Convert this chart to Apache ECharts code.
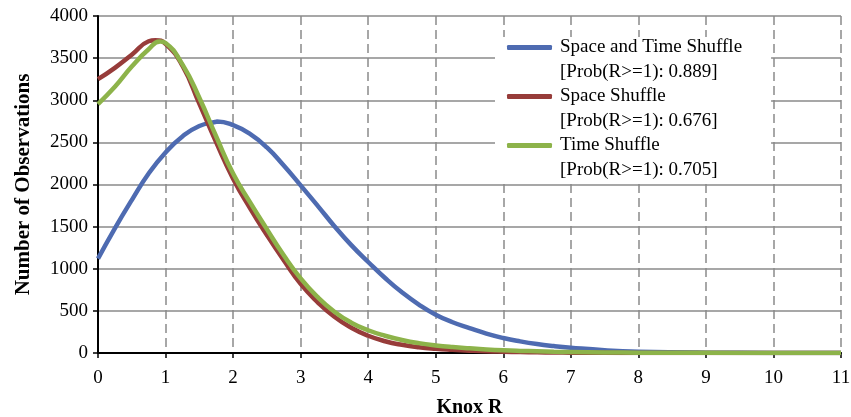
<!DOCTYPE html>
<html>
<head>
<meta charset="utf-8">
<script src="https://cdn.jsdelivr.net/npm/echarts@6/dist/echarts.min.js"></script>
<style>
  html, body { margin: 0; padding: 0; background: #fff; }
  #chart { width: 851px; height: 417px; }
</style>
</head>
<body>
<div id="chart"></div>
<script>
// Knox R values (x) and observation counts per shuffle type
const knoxR = [0, 0.25, 0.5, 0.75, 1, 1.25, 1.5, 1.75, 2, 2.25, 2.5, 2.75, 3, 3.25, 3.5, 3.75, 4,
  4.25, 4.5, 4.75, 5, 5.25, 5.5, 5.75, 6, 6.25, 6.5, 6.75, 7, 7.5, 8, 9, 10, 11];
const spaceTime = [1120, 1480, 1815, 2130, 2380, 2570, 2695, 2745, 2705, 2600, 2440, 2225, 1990, 1750, 1505, 1280, 1080,
  890, 720, 575, 455, 365, 295, 230, 178, 138, 106, 82, 63, 33, 16, 4, 1, 0];
const spaceOnly = [3250, 3385, 3540, 3700, 3670, 3410, 2960, 2500, 2070, 1720, 1400, 1100, 820, 605, 430, 300, 205,
  140, 97, 68, 50, 38, 28, 20, 15, 11, 8, 6, 4, 2, 1, 0, 0, 0];
const timeOnly = [2955, 3160, 3400, 3605, 3680, 3425, 3030, 2570, 2130, 1790, 1470, 1160, 885, 665, 490, 360, 270,
  205, 155, 117, 90, 70, 55, 42, 32, 25, 20, 15, 12, 7, 4, 2, 1, 0];

// peak of each curve: [Knox R, observations]
const spaceTimePeak = [1.76, 2748];
const spaceOnlyPeak = [0.85, 3713];
const timeOnlyPeak = [0.92, 3697];

const seriesNames = ['Space and Time Shuffle', 'Space Shuffle', 'Time Shuffle'];
const probLabels = ['[Prob(R>=1): 0.889]', '[Prob(R>=1): 0.676]', '[Prob(R>=1): 0.705]'];
const colors = ['#4e6bb1', '#973c3a', '#8db34a'];
const xTicks = [0, 11, 1];
const yTicks = [0, 4000, 500];

const font = '"Liberation Serif", "Times New Roman", serif';

const chart = echarts.init(document.getElementById('chart'));

function pairs(values, peak) {
  const pts = knoxR.map((r, i) => [r, values[i]]);
  pts.push(peak);
  return pts.sort((a, b) => a[0] - b[0]);
}

const allValues = [spaceTime, spaceOnly, timeOnly];
const allPeaks = [spaceTimePeak, spaceOnlyPeak, timeOnlyPeak];

chart.setOption({
  animation: false,
  grid: { left: 98, right: 10, top: 16, bottom: 64, outerBoundsMode: 'none' },
  xAxis: {
    type: 'value',
    min: xTicks[0],
    max: xTicks[1],
    interval: xTicks[2],
    name: 'Knox R',
    nameLocation: 'middle',
    nameGap: 45,
    nameTextStyle: { fontFamily: font, fontSize: 20, fontWeight: 'bold', color: '#000' },
    axisLine: { lineStyle: { color: '#000', width: 2 } },
    axisTick: { show: true, length: 5, lineStyle: { color: '#000', width: 1.5 } },
    axisLabel: { fontFamily: font, fontSize: 19, color: '#000', margin: 16 },
    splitLine: { show: true, lineStyle: { color: '#8a8a8a', width: 1.5, type: [9, 5] } }
  },
  yAxis: {
    type: 'value',
    min: yTicks[0],
    max: yTicks[1],
    interval: yTicks[2],
    name: 'Number of Observations',
    nameLocation: 'middle',
    nameGap: 64,
    nameTextStyle: { fontFamily: font, fontSize: 21, fontWeight: 'bold', color: '#000' },
    axisLine: { show: true, lineStyle: { color: '#000', width: 2 } },
    axisTick: { show: true, length: 5, lineStyle: { color: '#000', width: 1.5 } },
    axisLabel: { fontFamily: font, fontSize: 19, color: '#000', margin: 10, formatter: v => String(v) },
    splitLine: { show: true, lineStyle: { color: '#8a8a8a', width: 1.5 } }
  },
  legend: {
    orient: 'vertical',
    left: 495,
    top: 37,
    padding: [1, 29, 27, 12],
    itemGap: 30,
    itemWidth: 45,
    itemHeight: 5,
    icon: 'roundRect',
    backgroundColor: '#fff',
    textStyle: { fontFamily: font, fontSize: 19, color: '#000', padding: [0, 0, 0, 3] },
    data: seriesNames
  },
  graphic: probLabels.map((t, i) => ({
    type: 'text',
    left: 560,
    top: 63 + i * 49,
    z: 100,
    style: { text: t, font: '19px ' + font, fill: '#000' }
  })),
  series: seriesNames.map((name, i) => ({
    name: name,
    type: 'line',
    smooth: true,
    showSymbol: false,
    data: pairs(allValues[i], allPeaks[i]),
    lineStyle: { color: colors[i], width: 4.5 },
    itemStyle: { color: colors[i] }
  }))
});
</script>
</body>
</html>
